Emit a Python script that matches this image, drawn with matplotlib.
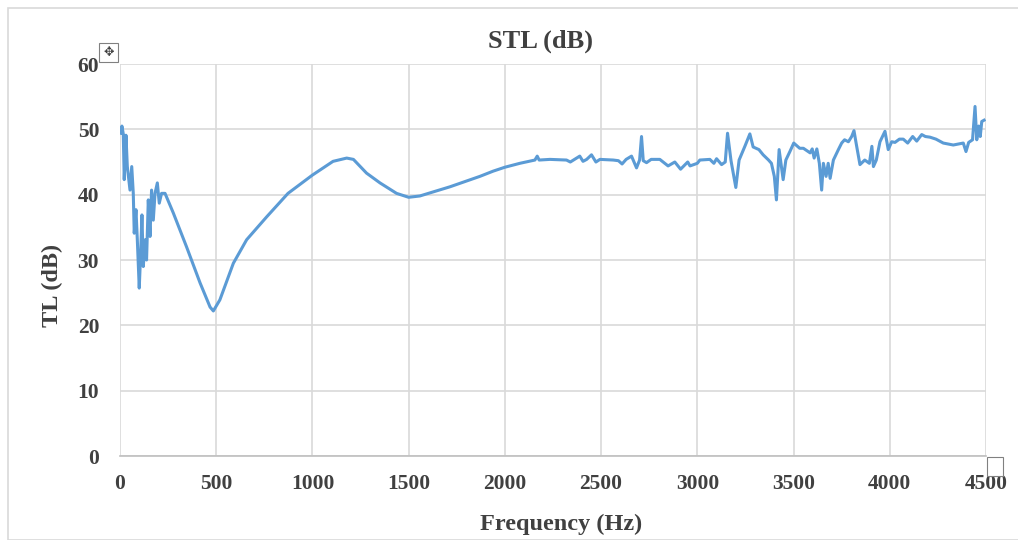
import matplotlib.pyplot as plt
import matplotlib as mpl
from matplotlib.patches import Rectangle

# STL curve
freq = [4, 10, 17, 22, 31, 38, 52, 61, 69, 74, 83, 90, 100, 107, 114, 121, 131, 138,
        147, 156, 164, 173, 182, 194, 204, 216, 234, 277, 346, 416, 468, 485, 519,
        589, 658, 762, 873, 1000, 1107, 1178, 1213, 1281, 1351, 1437, 1500, 1558,
        1714, 1870, 1939, 2000, 2078, 2156, 2168, 2178, 2234, 2320, 2340, 2372, 2389,
        2406, 2425, 2450, 2473, 2494, 2563, 2590, 2609, 2630, 2658, 2684, 2700, 2710,
        2719, 2736, 2760, 2805, 2848, 2883, 2913, 2950, 2962, 3000, 3013, 3065, 3086,
        3100, 3126, 3145, 3157, 3175, 3200, 3217, 3247, 3273, 3290, 3320, 3342, 3370,
        3385, 3400, 3411, 3425, 3446, 3460, 3481, 3501, 3532, 3551, 3586, 3597, 3607,
        3621, 3634, 3646, 3655, 3669, 3680, 3690, 3707, 3733, 3750, 3765, 3785, 3802,
        3814, 3825, 3845, 3870, 3894, 3907, 3915, 3930, 3949, 3975, 3992, 4010, 4027,
        4050, 4070, 4093, 4119, 4140, 4166, 4185, 4209, 4240, 4278, 4330, 4382, 4396,
        4410, 4430, 4443, 4452, 4462, 4470, 4478, 4490]
tl = [49.4, 50.5, 49.3, 42.3, 49.1, 44.3, 40.7, 44.3, 40.2, 34.1, 37.7, 33.1, 25.7, 30.8,
      36.9, 29.0, 33.1, 30.0, 39.2, 33.6, 40.7, 36.1, 40.2, 41.8, 38.7, 40.2, 40.2, 37.2,
      32.0, 26.5, 22.8, 22.2, 23.9, 29.5, 33.1, 36.6, 40.2, 43.0, 45.1, 45.6, 45.4, 43.3,
      41.8, 40.2, 39.6, 39.8, 41.2, 42.8, 43.6, 44.2, 44.8, 45.3, 45.9, 45.3, 45.4, 45.3,
      45.0, 45.6, 45.9, 45.1, 45.4, 46.1, 45.0, 45.4, 45.3, 45.2, 44.7, 45.4, 45.9, 44.1,
      45.3, 48.9, 45.2, 44.9, 45.4, 45.4, 44.4, 45.0, 43.9, 45.0, 44.4, 44.8, 45.3, 45.4,
      44.8, 45.5, 44.6, 45.0, 49.4, 45.2, 41.1, 45.3, 47.4, 49.3, 47.3, 46.9, 46.1, 45.3,
      44.8, 42.8, 39.2, 46.9, 42.3, 45.3, 46.6, 47.9, 47.1, 47.1, 46.4, 47.0, 45.6, 47.0,
      44.8, 40.7, 44.8, 42.8, 44.8, 42.5, 45.3, 46.9, 47.9, 48.4, 48.1, 48.9, 49.8, 47.9,
      44.6, 45.3, 44.8, 47.4, 44.3, 45.3, 48.1, 49.7, 46.9, 48.1, 48.0, 48.5, 48.5, 47.9,
      48.9, 48.2, 49.2, 48.9, 48.8, 48.5, 47.9, 47.6, 47.9, 46.6, 48.0, 48.4, 53.5, 48.4,
      50.5, 48.9, 51.2, 51.4]

x_ticks = [0, 500, 1000, 1500, 2000, 2500, 3000, 3500, 4000, 4500]
y_ticks = [0, 10, 20, 30, 40, 50, 60]

mpl.rcParams['font.family'] = 'Liberation Serif'
mpl.rcParams['font.weight'] = 'bold'

W, H = 1018, 540
fig = plt.figure(figsize=(W / 100, H / 100), dpi=100)
# chart frame border
fig.patches.append(Rectangle((8 / W, 0), 1, 1 - 8 / H, transform=fig.transFigure,
                             fill=False, edgecolor='#d9d9d9', linewidth=1.2))

ax = fig.add_axes([120 / W, 1 - 456 / H, 866 / W, 392 / H])
ax.plot(freq, tl, color='#5b9bd5', linewidth=2.2)

ax.set_xlim(0, 4500)
ax.set_ylim(0, 60)
ax.set_xticks(x_ticks)
ax.set_yticks(y_ticks)
ax.grid(color='#d9d9d9', linewidth=1.2)
ax.set_axisbelow(True)
for s in ['top', 'right', 'left']:
    ax.spines[s].set_visible(False)
ax.spines['bottom'].set_color('#bfbfbf')
ax.spines['bottom'].set_linewidth(1.2)
ax.tick_params(length=0, labelsize=15.5, colors='#404040')
ax.tick_params(axis='x', pad=13)
ax.tick_params(axis='y', pad=15)

fig.text(540 / W, 1 - 41 / H, 'STL (dB)', ha='center', va='center', fontsize=19,
         fontweight='bold', color='#404040')
fig.text(561 / W, 1 - 524 / H, 'Frequency (Hz)', ha='center', va='center', fontsize=17.5,
         fontweight='bold', color='#404040')
fig.text(52 / W, 1 - 285 / H, 'TL (dB)', ha='center', va='center', rotation=90,
         fontsize=17.5, fontweight='bold', color='#404040')

# little editor handles seen in the picture
fig.patches.append(Rectangle((99 / W, 1 - 62 / H), 19 / W, 19 / H,
                             transform=fig.transFigure, fill=True, facecolor='white',
                             edgecolor='#808080', linewidth=0.8))
fig.text(108.5 / W, 1 - 52.5 / H, '\u2725', ha='center', va='center', fontsize=9,
         family='DejaVu Sans', color='#404040')
fig.patches.append(Rectangle((987 / W, 1 - 476 / H), 16 / W, 19 / H,
                             transform=fig.transFigure, fill=True, facecolor='white',
                             edgecolor='#808080', linewidth=0.8))

fig.savefig('out.png', dpi=100)
